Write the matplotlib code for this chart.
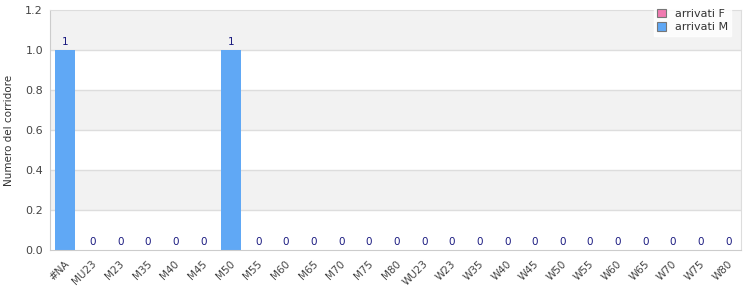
import matplotlib
matplotlib.use("Agg")
import matplotlib.pyplot as plt
import numpy as np
from matplotlib.patches import Patch

categories = ["#NA", "MU23", "M23", "M35", "M40", "M45", "M50", "M55", "M60", "M65",
              "M70", "M75", "M80", "WU23", "W23", "W35", "W40", "W45", "W50", "W55",
              "W60", "W65", "W70", "W75", "W80"]
arrivati_M = [1, 0, 0, 0, 0, 0, 1, 0, 0, 0, 0, 0, 0, 0, 0, 0, 0, 0, 0, 0, 0, 0, 0, 0, 0]
arrivati_F = [0] * len(categories)
yticks = [0.0, 0.2, 0.4, 0.6, 0.8, 1.0, 1.2]

fig = plt.figure(figsize=(7.5, 3), dpi=100)
ax = fig.add_axes([50/750, 50/300, 691/750, 240/300])

x = np.arange(len(categories))
ax.set_xlim(-0.5, len(categories) - 0.5)
ax.set_ylim(0, 1.2)

# alternating bands
for i in range(len(yticks) - 1):
    if i % 2 == 1:
        ax.axhspan(yticks[i], yticks[i + 1], color="#f2f2f2", zorder=0, lw=0)
for y in yticks[1:-1]:
    ax.axhline(y, color="#dddddd", lw=1, zorder=1)

mcol = "#60a8f5"
fcol = "#f07ab0"
bars = ax.bar(x + 0.04, arrivati_M, width=0.72, color=mcol, zorder=2)
for xi, v in zip(x, arrivati_M):
    if v > 0:
        ax.text(xi + 0.04, v + 0.015, str(v), ha="center", va="bottom",
                fontsize=7.5, color="#1a1a80")
    else:
        ax.text(xi + 0.04, 0.015, str(v), ha="center", va="bottom",
                fontsize=7.5, color="#1a1a80")

for s in ax.spines.values():
    s.set_color("#dddddd")
ax.spines["bottom"].set_color("#cccccc")
ax.spines["left"].set_color("#cccccc")

ax.set_yticks(yticks)
ax.set_yticklabels([f"{v:.1f}" for v in yticks], fontsize=8, color="#444444")
ax.set_xticks(x)
ax.set_xticklabels(categories, rotation=45, ha="right", rotation_mode="anchor",
                   fontsize=7.5, color="#444444")
ax.tick_params(length=0, pad=5)
ax.tick_params(axis="x", pad=6)
ax.set_ylabel("Numero del corridore", fontsize=7.5, color="#333333", labelpad=8)

handles = [Patch(facecolor=fcol, edgecolor="#777777", lw=0.8, label="arrivati F"),
           Patch(facecolor=mcol, edgecolor="#777777", lw=0.8, label="arrivati M")]
leg = fig.legend(handles=handles, loc="upper right", bbox_to_anchor=(737/750, 1.0),
                 fontsize=8, frameon=True, fancybox=False, handlelength=0.8,
                 handleheight=0.8, handletextpad=0.8, borderpad=0.3, labelspacing=0.3)
leg.get_frame().set_edgecolor("white")
leg.get_frame().set_facecolor("white")
for t in leg.get_texts():
    t.set_color("#333333")

fig.savefig("out.png", dpi=100)
